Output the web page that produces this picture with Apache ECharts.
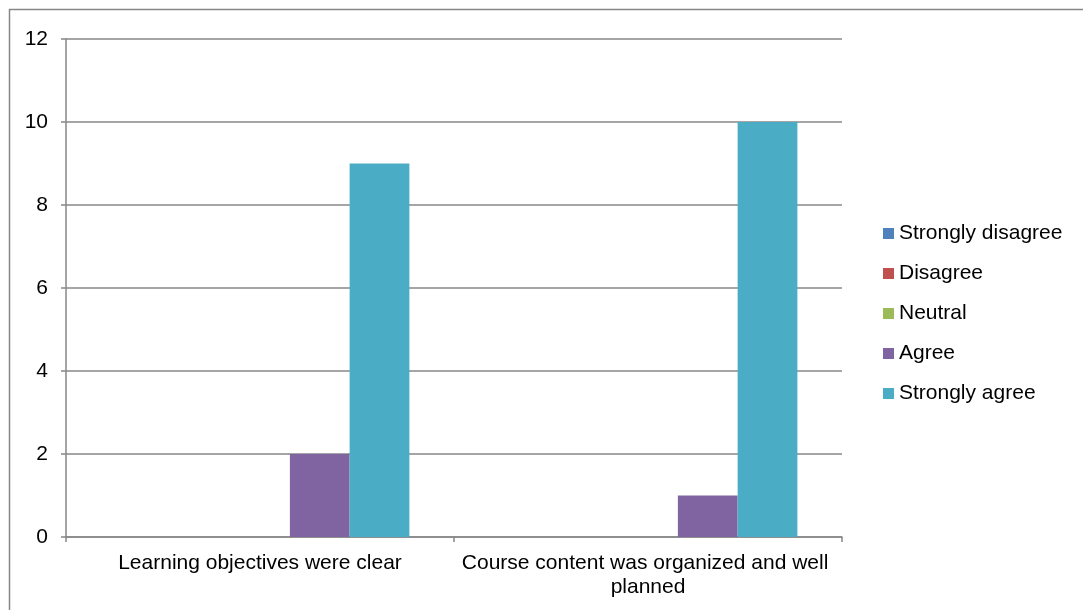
<!DOCTYPE html>
<html>
<head>
<meta charset="utf-8">
<script src="https://cdn.jsdelivr.net/npm/echarts@6/dist/echarts.min.js"></script>
<style>
  html, body { margin: 0; padding: 0; background: #fff; }
  #chart { width: 1083px; height: 610px; }
</style>
</head>
<body>
<div id="chart"></div>
<script>
// Survey responses per statement
const categories = ['Learning objectives were clear', 'Course content was organized and well planned'];
const seriesNames = ['Strongly disagree', 'Disagree', 'Neutral', 'Agree', 'Strongly agree'];
const stronglyDisagree = [0, 0];
const disagree = [0, 0];
const neutral = [0, 0];
const agree = [2, 1];
const stronglyAgree = [9, 10];
const yTicks = [0, 2, 4, 6, 8, 10, 12];

const seriesValues = [stronglyDisagree, disagree, neutral, agree, stronglyAgree];
const colors = ['#4F81BD', '#C0504D', '#9BBB59', '#8064A2', '#4BACC6'];
const gray = '#878787';
const font = 'Liberation Sans, Arial, sans-serif';

const chart = echarts.init(document.getElementById('chart'));
chart.setOption({
  animation: false,
  textStyle: { fontFamily: font },
  graphic: [{
    type: 'rect',
    shape: { x: 9.5, y: 9.5, width: 1090, height: 620 },
    style: { fill: 'none', stroke: gray, lineWidth: 1.5 },
    silent: true
  }],
  grid: { left: 66, right: 241, top: 39, bottom: 73 },
  legend: {
    orient: 'vertical',
    left: 878,
    top: 218,
    itemWidth: 11,
    itemHeight: 11,
    itemGap: 19,
    itemTextGap: 4,
    icon: 'rect',
    textStyle: { fontSize: 21, color: '#000', fontFamily: font },
    data: seriesNames
  },
  xAxis: {
    type: 'category',
    data: categories,
    axisLine: { lineStyle: { color: gray, width: 1.5 } },
    axisTick: { show: true, length: 5, interval: 0, lineStyle: { color: gray, width: 1.5 } },
    axisLabel: {
      interval: 0,
      color: '#000', fontSize: 21, margin: 14, lineHeight: 24,
      width: 388, overflow: 'break', fontFamily: font
    }
  },
  yAxis: {
    type: 'value',
    min: 0, max: 12, interval: 2,
    axisLine: { show: true, lineStyle: { color: gray, width: 1.5 } },
    axisTick: { show: true, length: 5, lineStyle: { color: gray, width: 1.5 } },
    splitLine: { lineStyle: { color: gray, width: 1.5 } },
    axisLabel: {
      color: '#000', fontSize: 21, margin: 18, fontFamily: font,
      formatter: v => yTicks.includes(v) ? String(v) : ''
    }
  },
  series: seriesNames.map((name, i) => ({
    name,
    type: 'bar',
    data: seriesValues[i],
    itemStyle: { color: colors[i] },
    barGap: '0%',
    barCategoryGap: '23%'
  }))
});
</script>
</body>
</html>
